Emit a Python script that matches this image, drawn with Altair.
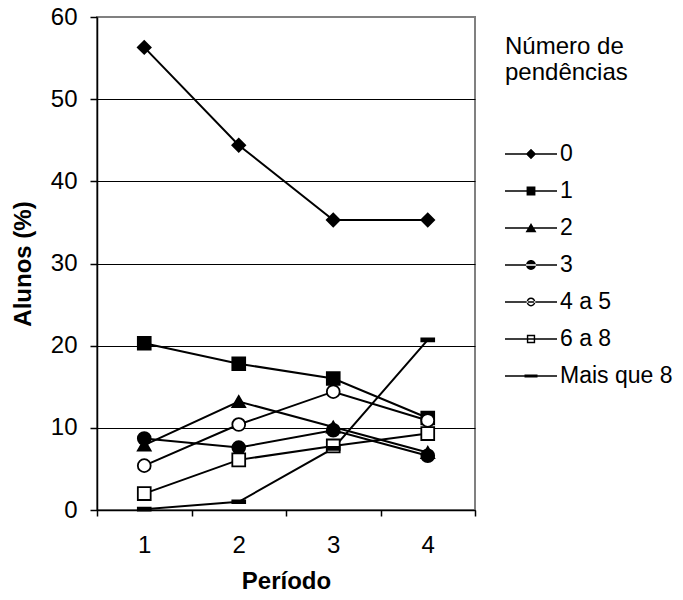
import altair as alt
import pandas as pd

periodos = ["1", "2", "3", "4"]
series = ["0", "1", "2", "3", "4 a 5", "6 a 8", "Mais que 8"]
v0 = [56.3, 44.4, 35.3, 35.3]
v1 = [20.3, 17.8, 16.0, 11.2]
v2 = [7.9, 13.2, 10.1, 7.0]
v3 = [8.7, 7.6, 9.7, 6.6]
v45 = [5.4, 10.4, 14.4, 10.9]
v68 = [2.0, 6.1, 7.8, 9.3]
v8p = [0.1, 1.0, 7.5, 20.7]
valores = [v0, v1, v2, v3, v45, v68, v8p]

rows = []
for s, vals in zip(series, valores):
    for p, v in zip(periodos, vals):
        rows.append({"Período": p, "serie": s, "legenda": s, "valor": v})
df = pd.DataFrame(rows)

# marker shapes in plot
dash = "M-1,-0.22H1V0.22H-1Z"
plot_shapes = ["diamond", "square", "triangle-up", "circle", "circle", "square", dash]
plot_fill = ["black", "black", "black", "black", "white", "white", "black"]

# legend symbols (all filled black): line with marker in the middle
ln = "M-1,-0.03H1V0.03H-1Z"


def ring(ro, ri):
    outer = f"M{-ro},0A{ro},{ro},0,1,0,{ro},0A{ro},{ro},0,1,0,{-ro},0Z"
    inner = f"M{-ri},0A{ri},{ri},0,1,1,{ri},0A{ri},{ri},0,1,1,{-ri},0Z"
    return outer + inner


def box(ro, ri):
    outer = f"M{-ro},{-ro}H{ro}V{ro}H{-ro}Z"
    inner = f"M{-ri},{-ri}V{ri}H{ri}V{-ri}Z"
    return outer + inner


leg_shapes = [
    ln + "M0,-0.2L0.2,0L0,0.2L-0.2,0Z",
    ln + "M-0.17,-0.17H0.17V0.17H-0.17Z",
    ln + "M0,-0.19L0.21,0.16H-0.21Z",
    ln + "M-0.19,0A0.19,0.19,0,1,0,0.19,0A0.19,0.19,0,1,0,-0.19,0Z",
    ln + ring(0.17, 0.115),
    ln + box(0.16, 0.105),
    ln + "M-0.25,-0.055H0.25V0.055H-0.25Z",
]

FONT = "Liberation Sans"

x_enc = alt.X(
    "Período:O",
    scale=alt.Scale(type="band", domain=periodos, paddingInner=0, paddingOuter=0),
    axis=alt.Axis(
        title="Período", labelAngle=0, tickBand="extent", grid=False,
        tickSize=6, labelPadding=17, titleY=78, titleBaseline="alphabetic",
    ),
)
y_enc = alt.Y(
    "valor:Q",
    scale=alt.Scale(domain=[0, 60], nice=False),
    axis=alt.Axis(
        title="Alunos (%)", values=[0, 10, 20, 30, 40, 50, 60], tickSize=7,
        labelPadding=13, titleX=-67, titleBaseline="alphabetic",
        gridColor={"condition": {"test": "datum.value === 60", "value": "#808080"}, "value": "black"},
    ),
)

lines = alt.Chart(df).mark_line(color="black", strokeWidth=2).encode(
    x=x_enc, y=y_enc, detail="serie:N", order="Período:O"
)

points = alt.Chart(df).mark_point(filled=False, stroke="black", strokeWidth=1.8, opacity=1).encode(
    x=x_enc,
    y=y_enc,
    shape=alt.Shape("serie:N", scale=alt.Scale(domain=series, range=plot_shapes), legend=None),
    fill=alt.Fill("serie:N", scale=alt.Scale(domain=series, range=plot_fill), legend=None),
    size=alt.value(165),
)

leg = alt.Legend(
    title=["Número de", "pendências"],
    orient="none",
    legendX=408,
    legendY=18,
    titleFontSize=24,
    titleFontWeight="normal",
    titleFont=FONT,
    titleLineHeight=26,
    titleBaseline="top",
    titlePadding=53,
    titleLimit=300,
    labelFontSize=23,
    labelFont=FONT,
    labelColor="black",
    titleColor="black",
    labelOffset=3,
    labelLimit=300,
    symbolSize=2704,
    symbolFillColor="black",
    symbolStrokeWidth=0,
    symbolOpacity=1,
    clipHeight=32,
    rowPadding=5,
    padding=0,
)

legend_layer = alt.Chart(df).mark_point(filled=True, color="black", opacity=1).encode(
    x=x_enc,
    y=y_enc,
    shape=alt.Shape("legenda:N", scale=alt.Scale(domain=series, range=leg_shapes), legend=leg),
).transform_filter("false")

chart = (
    alt.layer(lines, points, legend_layer)
    .resolve_scale(shape="independent")
    .properties(
        width=378, height=493,
        autosize=alt.AutoSizeParams(type="none"),
        padding={"left": 89, "top": 9, "right": 200, "bottom": 82},
        background="white",
    )
    .configure_view(stroke="#808080", strokeWidth=2)
    .configure_axis(
        labelFont=FONT, titleFont=FONT, labelFontSize=24, titleFontSize=24,
        titleFontWeight="bold", labelColor="black", titleColor="black",
        domainColor="black", tickColor="black", gridWidth=1,
        domainWidth=1.5, tickWidth=1.5,
    )
    .configure_axisY(grid=True)
)

chart.save("out.html", embed_options={"renderer": "svg", "actions": False})
